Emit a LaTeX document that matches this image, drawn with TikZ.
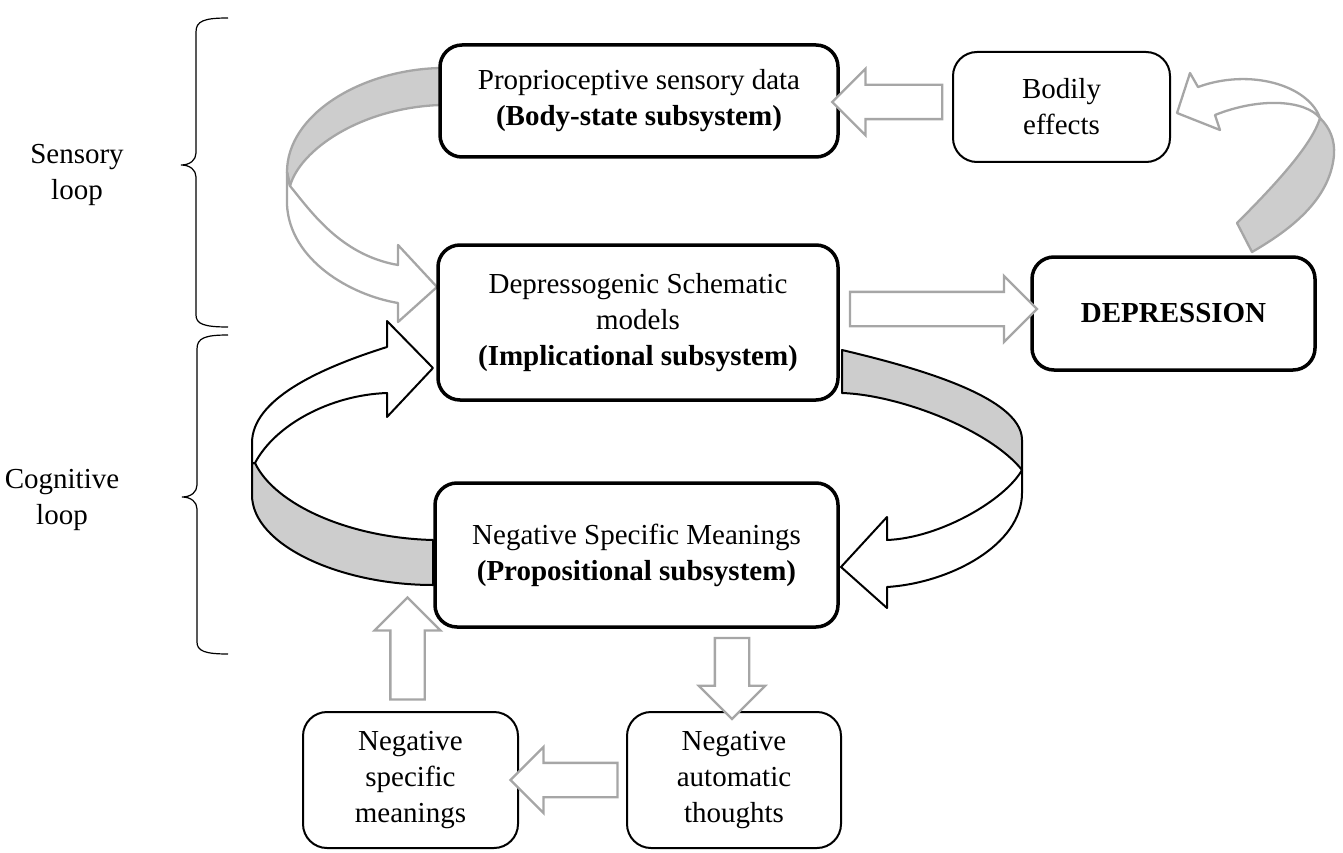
\documentclass[tikz,border=0pt]{standalone}
\usepackage{fontspec}
\setmainfont{Liberation Serif}
\usepackage{tikz}
\usetikzlibrary{shapes.arrows,calc}
\definecolor{arrowgray}{RGB}{166,166,166}
\definecolor{ribbongray}{RGB}{205,205,205}

\begin{document}
\begin{tikzpicture}[x=1pt, y=-1pt,
    font=\fontsize{29}{36}\selectfont,
    mainbox/.style={draw, line width=3.5pt, rounded corners=22pt, align=center, inner sep=0pt, fill=white},
    sidebox/.style={draw, line width=2pt, rounded corners=24pt, align=center, inner sep=0pt, fill=white},
    blockarrow/.style={single arrow, draw=arrowgray, line width=2.3pt, fill=white, inner xsep=0pt, inner ysep=16pt,
        single arrow head extend=16pt, single arrow tip angle=90, minimum width=64pt},
    grayribbon/.style={draw=arrowgray, line width=2.3pt, line join=round},
    blackribbon/.style={draw=black, line width=2pt, line join=round}]

    \useasboundingbox (0,0) rectangle (1343,853);

    \draw[grayribbon, fill=ribbongray] (440,68) .. controls (360,70) and (287,115) .. (287,172) -- (290,186)
        .. controls (300,150) and (360,108) .. (440,105) -- cycle;
    \draw[grayribbon, fill=white] (287,172) -- (287,205) .. controls (290,260) and (350,295) .. (398,303)
        -- (398,322) -- (437,287) -- (398,245) -- (398,265) .. controls (340,255) and (310,210) .. (290,186) -- cycle;

    \draw[grayribbon, fill=ribbongray] (1237,223) .. controls (1275,185) and (1312,145) .. (1320,118)
        .. controls (1330,128) and (1335,140) .. (1334,155) .. controls (1330,200) and (1290,230) .. (1252,252) -- cycle;
    \draw[grayribbon, fill=white] (1320,118) .. controls (1308,85) and (1250,68) .. (1198,87)
        -- (1190,73) -- (1177,113) -- (1220,130) -- (1215,115) .. controls (1260,97) and (1305,100) .. (1320,118) -- cycle;

    \draw[blackribbon, fill=ribbongray] (252,463) -- (252,495) .. controls (252,545) and (340,585) .. (433,585)
        -- (433,540) .. controls (350,538) and (275,505) .. (255,463) -- cycle;
    \draw[blackribbon, fill=white] (252,463) -- (252,443) .. controls (252,400) and (317,369) .. (387,347)
        -- (387,321) -- (433,368) -- (387,417) -- (387,393) .. controls (330,395) and (275,425) .. (255,463) -- cycle;

    \draw[blackribbon, fill=ribbongray] (842,350) .. controls (905,365) and (1022,395) .. (1022,440) -- (1022,470)
        .. controls (990,430) and (900,395) .. (842,393) -- cycle;
    \draw[blackribbon, fill=white] (1022,470) -- (1022,493) .. controls (1022,545) and (950,583) .. (887,587)
        -- (887,608) -- (841,567) -- (887,517) -- (887,540) .. controls (940,538) and (1005,500) .. (1022,470) -- cycle;

    \node[mainbox, minimum width=398pt, minimum height=112pt] (prop) at (639,101) {Proprioceptive sensory data\\\textbf{(Body-state subsystem)}};
    \node[sidebox, minimum width=217pt, minimum height=110pt] (bodily) at (1061.5,107) {Bodily\\effects};
    \node[mainbox, minimum width=400pt, minimum height=155pt] (schema) at (638,322.5) {Depressogenic Schematic\\models\\\textbf{(Implicational subsystem)}};
    \node[mainbox, minimum width=283pt, minimum height=113pt] (depr) at (1173.5,313.5) {\textbf{DEPRESSION}};
    \node[mainbox, minimum width=403pt, minimum height=144pt] (propsub) at (636.5,555) {Negative Specific Meanings\\\textbf{(Propositional subsystem)}};
    \node[sidebox, minimum width=215pt, minimum height=136pt] (nsm) at (410.5,780) {Negative\\specific\\meanings};
    \node[sidebox, minimum width=214pt, minimum height=136pt] (nat) at (734,780) {Negative\\automatic\\thoughts};

    \node[blockarrow, minimum height=110pt, rotate=180] (a1) at ($(prop.east)!0.5!(bodily.west)+(0,-2)$) {};
    \node[blockarrow, minimum height=187pt] (a2) at ($(schema.east)!0.5!(depr.west)+(0,-9)$) {};
    \node[blockarrow, minimum height=81pt, rotate=-90] (a3) at ($(nat.north)!0.5!(nat.north |- propsub.south)+(-2,0)$) {};
    \node[blockarrow, minimum height=107pt, rotate=180] (a4) at ($(nsm.east)!0.5!(nat.west)$) {};
    \node[blockarrow, minimum height=102pt, rotate=90] (a5) at ($(nsm.north)+(-3,-54)$) {};

    \draw[line width=1.2pt] (228,18) .. controls (204,18) and (196,21) .. (196,32) -- (196,153)
        .. controls (196,160) and (190,165) .. (181,165) .. controls (190,165) and (196,170) .. (196,177)
        -- (196,315) .. controls (196,324) and (204,327) .. (228,327);
    \draw[line width=1.2pt] (228,335) .. controls (205,335) and (197,338) .. (197,349) -- (197,485)
        .. controls (197,492) and (191,497) .. (182,497) .. controls (191,497) and (197,502) .. (197,509)
        -- (197,642) .. controls (197,651) and (205,654) .. (228,654);

    \node[align=center] (sensory) at (77,175) {Sensory\\loop};
    \node[align=center] (cognitive) at (62,500) {Cognitive\\loop};
\end{tikzpicture}
\end{document}
